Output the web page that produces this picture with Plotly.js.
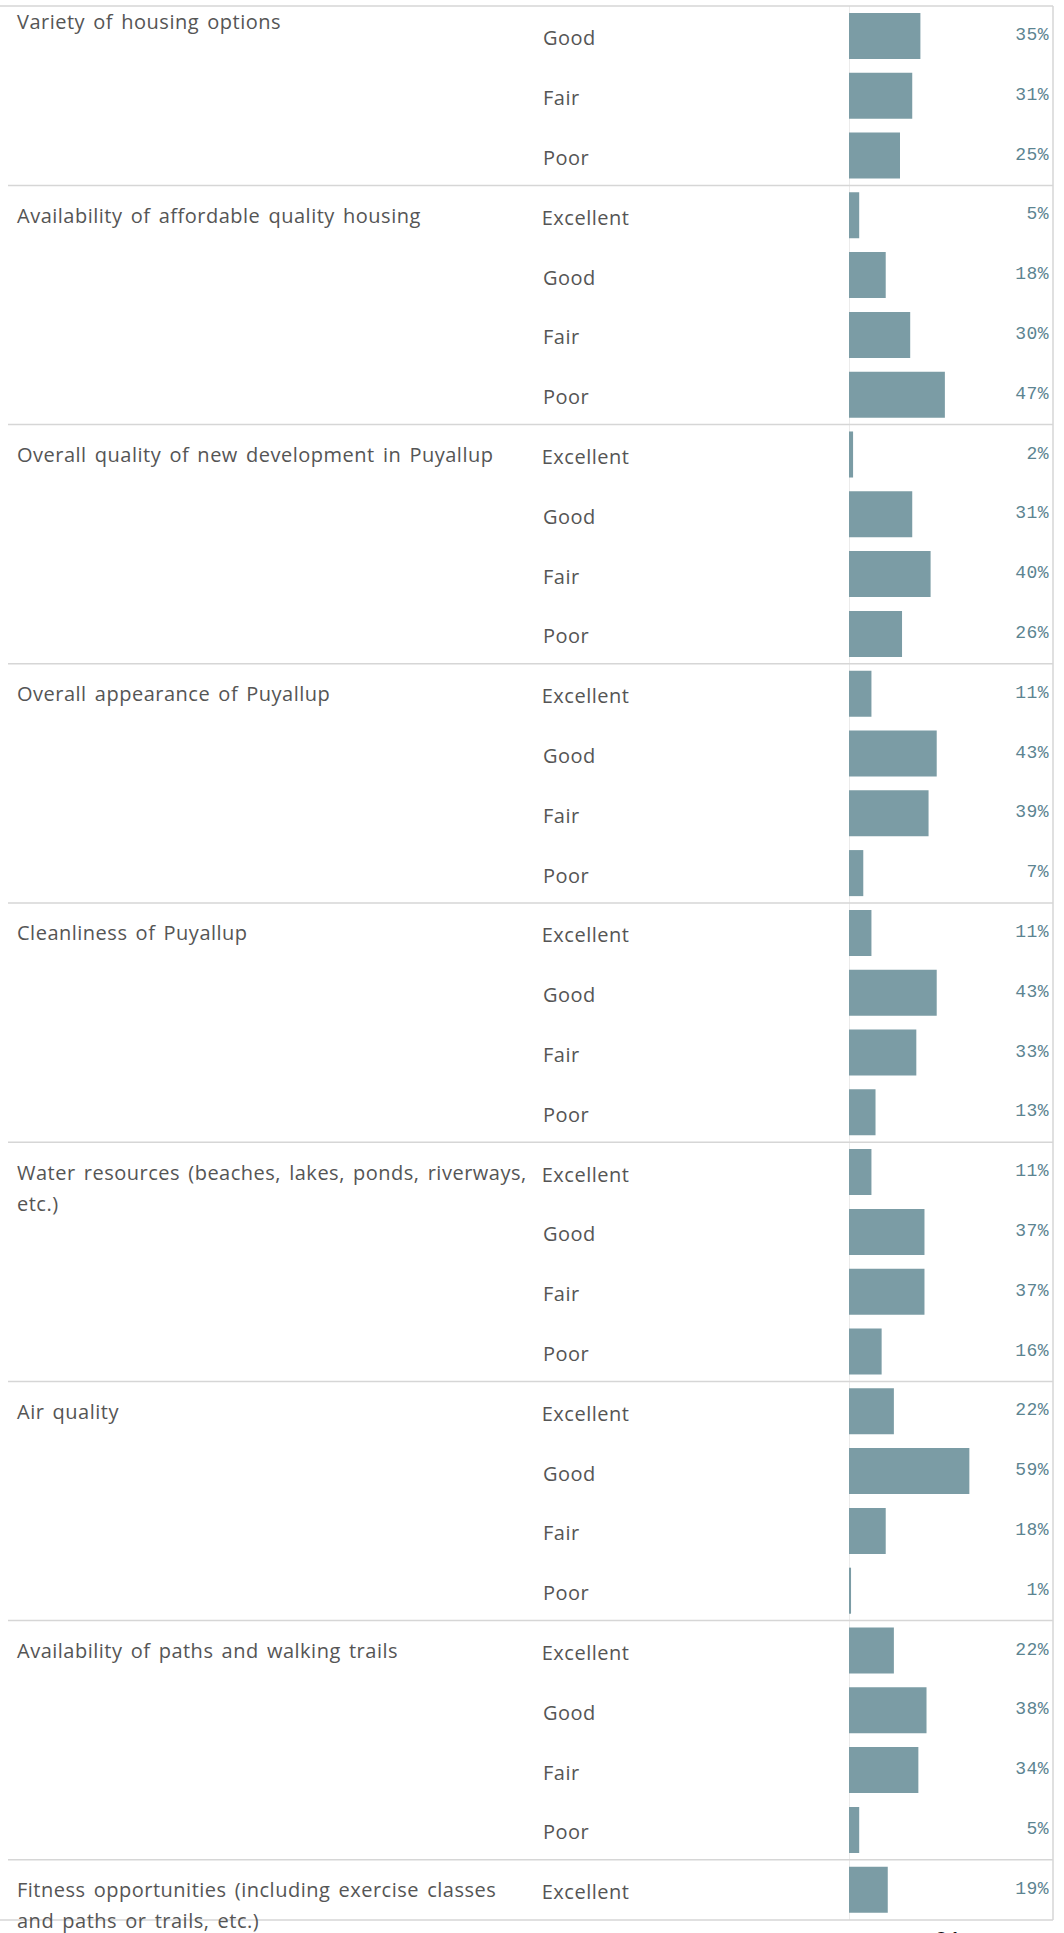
<!DOCTYPE html>
<html>
<head>
<meta charset="utf-8">
<script src="https://cdn.plot.ly/plotly-3.0.1.min.js"></script>
<style>
  html, body { margin: 0; padding: 0; background: #ffffff; }
  #chart { width: 1064px; height: 1933px; }
  #chart .annotation-text { letter-spacing: 0.5px; word-spacing: 2.5px; }
</style>
</head>
<body>
<div id="chart"></div>
<script>
// ---- data ----
const questions = [
  "Variety of housing options",
  "Availability of affordable quality housing",
  "Overall quality of new development in Puyallup",
  "Overall appearance of Puyallup",
  "Cleanliness of Puyallup",
  "Water resources (beaches, lakes, ponds, riverways,<br>etc.)",
  "Air quality",
  "Availability of paths and walking trails",
  "Fitness opportunities (including exercise classes<br>and paths or trails, etc.)"
];
const ratings = [
  ["Good", "Fair", "Poor"],
  ["Excellent", "Good", "Fair", "Poor"],
  ["Excellent", "Good", "Fair", "Poor"],
  ["Excellent", "Good", "Fair", "Poor"],
  ["Excellent", "Good", "Fair", "Poor"],
  ["Excellent", "Good", "Fair", "Poor"],
  ["Excellent", "Good", "Fair", "Poor"],
  ["Excellent", "Good", "Fair", "Poor"],
  ["Excellent"]
];
const values = [
  [35, 31, 25],
  [5, 18, 30, 47],
  [2, 31, 40, 26],
  [11, 43, 39, 7],
  [11, 43, 33, 13],
  [11, 37, 37, 16],
  [22, 59, 18, 1],
  [22, 38, 34, 5],
  [19]
];
const pageMark = "01";

// ---- build rows ----
const rowIdx = [], rowVal = [], rowRating = [], groupStart = [];
let r = 0;
values.forEach((vals, g) => {
  groupStart.push(r);
  vals.forEach((v, i) => {
    rowIdx.push(r); rowVal.push(v); rowRating.push(ratings[g][i]); r++;
  });
});
const nRows = r;

// ---- geometry (pixels) ----
const W = 1064, H = 1933;
const paneTop = 6, rowH = 59.8;
const paneBottom = paneTop + nRows * rowH;
const axisX = 849, rightX = 1053;
const px = x => x / W;
const py = y => 1 - y / H;

const lineColor = "#d6d6d6";
const textColor = "#555555";
const pctColor = "#5c8491";
const barColor = "#7b9ca5";
const labelFont = { family: "Open Sans, Noto Sans, sans-serif", size: 20, color: textColor };

const annotations = [];
// question labels
questions.forEach((q, g) => {
  const lines = q.split("<br>");
  lines.forEach((ln, k) => {
    const a = {
      xref: "paper", x: px(15), xanchor: "left",
      yref: "y", showarrow: false, text: ln, font: labelFont,
      align: "left"
    };
    if (g === 0) {
      a.y = groupStart[g] - 0.5; a.yanchor = "top"; a.yshift = 0 - 31 * k;
    } else {
      a.y = groupStart[g]; a.yanchor = "middle"; a.yshift = -31 * k;
    }
    annotations.push(a);
  });
});
// rating labels and percentages
rowIdx.forEach((ri, i) => {
  annotations.push({
    xref: "paper", x: px(542), xanchor: "left",
    yref: "y", y: ri, yanchor: "middle", yshift: -2,
    showarrow: false, text: rowRating[i], font: labelFont
  });
  annotations.push({
    xref: "paper", x: px(1051), xanchor: "right",
    yref: "y", y: ri, yanchor: "middle", yshift: 1,
    showarrow: false, text: rowVal[i] + "%",
    font: { family: "Liberation Mono, DejaVu Sans Mono, monospace", size: 18, color: pctColor }
  });
});
// page mark at bottom (cut off)
annotations.push({
  xref: "paper", x: px(948), xanchor: "center",
  yref: "paper", y: py(1925), yanchor: "top",
  showarrow: false, text: pageMark,
  font: { family: "Liberation Sans, Arial, sans-serif", size: 24, color: "#111111" }
});

// ---- shapes ----
const shapes = [];
const hl = (y, x0) => ({ type: "line", xref: "paper", yref: "paper", x0: x0, x1: px(rightX), y0: py(y), y1: py(y), line: { color: lineColor, width: 1.5 } });
shapes.push(hl(paneTop, 0));
shapes.push(hl(1920, 0));
groupStart.slice(1).forEach(s => {
  shapes.push({ type: "line", xref: "paper", yref: "y", x0: px(8), x1: px(rightX), y0: s - 0.5, y1: s - 0.5, line: { color: lineColor, width: 1.5 } });
});
shapes.push({ type: "line", xref: "x", yref: "paper", x0: -0.2, x1: -0.2, y0: py(1920), y1: py(paneTop), line: { color: lineColor, width: 1.8 }, layer: "below" });
shapes.push({ type: "line", xref: "paper", yref: "paper", x0: px(rightX), x1: px(rightX), y0: py(1920), y1: py(paneTop), line: { color: lineColor, width: 1.5 } });

const trace = {
  type: "bar", orientation: "h",
  x: rowVal, y: rowIdx,
  width: 0.77,
  marker: { color: barColor, line: { width: 0 } },
  hoverinfo: "skip"
};

const layout = {
  width: W, height: H,
  margin: { l: 0, r: 0, t: 0, b: 0, pad: 0 },
  paper_bgcolor: "#ffffff", plot_bgcolor: "rgba(0,0,0,0)",
  showlegend: false,
  xaxis: { domain: [px(axisX), px(rightX)], range: [0, 100], showgrid: false, zeroline: false, showticklabels: false, showline: false, fixedrange: true },
  yaxis: { domain: [py(paneBottom), py(paneTop)], range: [nRows - 0.5, -0.5], showgrid: false, zeroline: false, showticklabels: false, showline: false, fixedrange: true },
  annotations: annotations,
  shapes: shapes
};

Plotly.newPlot("chart", [trace], layout, { displayModeBar: false, staticPlot: true });
</script>
</body>
</html>
